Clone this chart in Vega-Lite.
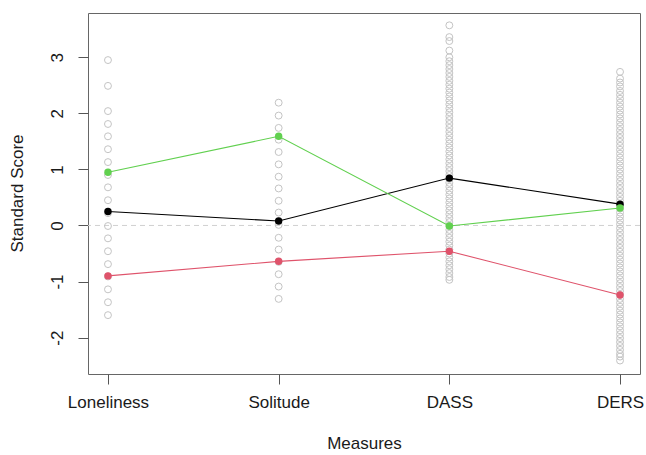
{
  "$schema": "https://vega.github.io/schema/vega-lite/v6.json",
  "autosize": {"type": "none"},
  "width": 552,
  "height": 361,
  "padding": {"left": 88, "top": 13, "right": 6, "bottom": 81},
  "background": "white",
  "config": {
    "view": {"stroke": "#666666", "strokeWidth": 1},
    "font": "Liberation Sans"
  },
  "datasets": {
    "raw": [
      {"measure": "Loneliness", "value": 2.95}, {"measure": "Loneliness", "value": 2.49}, {"measure": "Loneliness", "value": 2.04}, {"measure": "Loneliness", "value": 1.81}, {"measure": "Loneliness", "value": 1.59}, {"measure": "Loneliness", "value": 1.36}, {"measure": "Loneliness", "value": 1.13}, {"measure": "Loneliness", "value": 0.9}, {"measure": "Loneliness", "value": 0.68}, {"measure": "Loneliness", "value": 0.45}, {"measure": "Loneliness", "value": 0.22}, {"measure": "Loneliness", "value": -0.01}, {"measure": "Loneliness", "value": -0.23}, {"measure": "Loneliness", "value": -0.46}, {"measure": "Loneliness", "value": -0.69}, {"measure": "Loneliness", "value": -0.91}, {"measure": "Loneliness", "value": -1.14}, {"measure": "Loneliness", "value": -1.37}, {"measure": "Loneliness", "value": -1.6},
      {"measure": "Solitude", "value": 2.19}, {"measure": "Solitude", "value": 1.96}, {"measure": "Solitude", "value": 1.74}, {"measure": "Solitude", "value": 1.53}, {"measure": "Solitude", "value": 1.31}, {"measure": "Solitude", "value": 1.09}, {"measure": "Solitude", "value": 0.87}, {"measure": "Solitude", "value": 0.66}, {"measure": "Solitude", "value": 0.44}, {"measure": "Solitude", "value": 0.23}, {"measure": "Solitude", "value": 0.01}, {"measure": "Solitude", "value": -0.22}, {"measure": "Solitude", "value": -0.43}, {"measure": "Solitude", "value": -0.65}, {"measure": "Solitude", "value": -0.87}, {"measure": "Solitude", "value": -1.09}, {"measure": "Solitude", "value": -1.31},
      {"measure": "DASS", "value": 3.57}, {"measure": "DASS", "value": 3.36}, {"measure": "DASS", "value": 3.29}, {"measure": "DASS", "value": 3.12}, {"measure": "DASS", "value": 3.0}, {"measure": "DASS", "value": 2.93}, {"measure": "DASS", "value": 2.86}, {"measure": "DASS", "value": 2.79}, {"measure": "DASS", "value": 2.72}, {"measure": "DASS", "value": 2.65}, {"measure": "DASS", "value": 2.58}, {"measure": "DASS", "value": 2.51}, {"measure": "DASS", "value": 2.44}, {"measure": "DASS", "value": 2.37}, {"measure": "DASS", "value": 2.3}, {"measure": "DASS", "value": 2.23}, {"measure": "DASS", "value": 2.16}, {"measure": "DASS", "value": 2.09}, {"measure": "DASS", "value": 2.02}, {"measure": "DASS", "value": 1.95}, {"measure": "DASS", "value": 1.88}, {"measure": "DASS", "value": 1.81}, {"measure": "DASS", "value": 1.74}, {"measure": "DASS", "value": 1.67}, {"measure": "DASS", "value": 1.6}, {"measure": "DASS", "value": 1.53}, {"measure": "DASS", "value": 1.46}, {"measure": "DASS", "value": 1.39}, {"measure": "DASS", "value": 1.32}, {"measure": "DASS", "value": 1.25}, {"measure": "DASS", "value": 1.18}, {"measure": "DASS", "value": 1.11}, {"measure": "DASS", "value": 1.04}, {"measure": "DASS", "value": 0.97}, {"measure": "DASS", "value": 0.9}, {"measure": "DASS", "value": 0.83}, {"measure": "DASS", "value": 0.76}, {"measure": "DASS", "value": 0.69}, {"measure": "DASS", "value": 0.62}, {"measure": "DASS", "value": 0.55}, {"measure": "DASS", "value": 0.48}, {"measure": "DASS", "value": 0.41}, {"measure": "DASS", "value": 0.34}, {"measure": "DASS", "value": 0.27}, {"measure": "DASS", "value": 0.2}, {"measure": "DASS", "value": 0.13}, {"measure": "DASS", "value": 0.06}, {"measure": "DASS", "value": -0.01}, {"measure": "DASS", "value": -0.08}, {"measure": "DASS", "value": -0.15}, {"measure": "DASS", "value": -0.22}, {"measure": "DASS", "value": -0.29}, {"measure": "DASS", "value": -0.36}, {"measure": "DASS", "value": -0.43}, {"measure": "DASS", "value": -0.5}, {"measure": "DASS", "value": -0.57}, {"measure": "DASS", "value": -0.64}, {"measure": "DASS", "value": -0.71}, {"measure": "DASS", "value": -0.78}, {"measure": "DASS", "value": -0.85}, {"measure": "DASS", "value": -0.92}, {"measure": "DASS", "value": -0.97},
      {"measure": "DERS", "value": 2.74}, {"measure": "DERS", "value": 2.62}, {"measure": "DERS", "value": 2.55}, {"measure": "DERS", "value": 2.48}, {"measure": "DERS", "value": 2.4}, {"measure": "DERS", "value": 2.33}, {"measure": "DERS", "value": 2.26}, {"measure": "DERS", "value": 2.19}, {"measure": "DERS", "value": 2.12}, {"measure": "DERS", "value": 2.05}, {"measure": "DERS", "value": 1.98}, {"measure": "DERS", "value": 1.91}, {"measure": "DERS", "value": 1.84}, {"measure": "DERS", "value": 1.77}, {"measure": "DERS", "value": 1.7}, {"measure": "DERS", "value": 1.63}, {"measure": "DERS", "value": 1.56}, {"measure": "DERS", "value": 1.49}, {"measure": "DERS", "value": 1.42}, {"measure": "DERS", "value": 1.35}, {"measure": "DERS", "value": 1.28}, {"measure": "DERS", "value": 1.21}, {"measure": "DERS", "value": 1.14}, {"measure": "DERS", "value": 1.07}, {"measure": "DERS", "value": 1.0}, {"measure": "DERS", "value": 0.93}, {"measure": "DERS", "value": 0.86}, {"measure": "DERS", "value": 0.79}, {"measure": "DERS", "value": 0.72}, {"measure": "DERS", "value": 0.65}, {"measure": "DERS", "value": 0.58}, {"measure": "DERS", "value": 0.51}, {"measure": "DERS", "value": 0.44}, {"measure": "DERS", "value": 0.37}, {"measure": "DERS", "value": 0.3}, {"measure": "DERS", "value": 0.23}, {"measure": "DERS", "value": 0.16}, {"measure": "DERS", "value": 0.09}, {"measure": "DERS", "value": 0.02}, {"measure": "DERS", "value": -0.05}, {"measure": "DERS", "value": -0.12}, {"measure": "DERS", "value": -0.19}, {"measure": "DERS", "value": -0.26}, {"measure": "DERS", "value": -0.33}, {"measure": "DERS", "value": -0.4}, {"measure": "DERS", "value": -0.47}, {"measure": "DERS", "value": -0.54}, {"measure": "DERS", "value": -0.61}, {"measure": "DERS", "value": -0.68}, {"measure": "DERS", "value": -0.75}, {"measure": "DERS", "value": -0.82}, {"measure": "DERS", "value": -0.89}, {"measure": "DERS", "value": -0.96}, {"measure": "DERS", "value": -1.03}, {"measure": "DERS", "value": -1.1}, {"measure": "DERS", "value": -1.17}, {"measure": "DERS", "value": -1.24}, {"measure": "DERS", "value": -1.31}, {"measure": "DERS", "value": -1.38}, {"measure": "DERS", "value": -1.45}, {"measure": "DERS", "value": -1.52}, {"measure": "DERS", "value": -1.59}, {"measure": "DERS", "value": -1.66}, {"measure": "DERS", "value": -1.73}, {"measure": "DERS", "value": -1.8}, {"measure": "DERS", "value": -1.87}, {"measure": "DERS", "value": -1.94}, {"measure": "DERS", "value": -2.01}, {"measure": "DERS", "value": -2.08}, {"measure": "DERS", "value": -2.15}, {"measure": "DERS", "value": -2.22}, {"measure": "DERS", "value": -2.29}, {"measure": "DERS", "value": -2.34}, {"measure": "DERS", "value": -2.41}
    ],
    "means": [
      {"measure": "Loneliness", "group": "Group 1", "value": 0.25},
      {"measure": "Solitude", "group": "Group 1", "value": 0.08},
      {"measure": "DASS", "group": "Group 1", "value": 0.845},
      {"measure": "DERS", "group": "Group 1", "value": 0.38},
      {"measure": "Loneliness", "group": "Group 2", "value": -0.9},
      {"measure": "Solitude", "group": "Group 2", "value": -0.64},
      {"measure": "DASS", "group": "Group 2", "value": -0.46},
      {"measure": "DERS", "group": "Group 2", "value": -1.24},
      {"measure": "Loneliness", "group": "Group 3", "value": 0.95},
      {"measure": "Solitude", "group": "Group 3", "value": 1.59},
      {"measure": "DASS", "group": "Group 3", "value": -0.01},
      {"measure": "DERS", "group": "Group 3", "value": 0.31}
    ],
    "zero": [{"value": 0}]
  },
  "encoding": {
    "x": {
      "field": "measure",
      "type": "ordinal",
      "sort": ["Loneliness", "Solitude", "DASS", "DERS"],
      "scale": {"type": "point", "padding": 0.117, "domain": ["Loneliness", "Solitude", "DASS", "DERS"]},
      "axis": {
        "title": "Measures",
        "titleFont": "Liberation Sans",
        "titleFontSize": 17,
        "titleFontWeight": "normal",
        "titleColor": "#1a1a1a",
        "titleY": 69,
        "titleBaseline": "middle",
        "labelFont": "Liberation Sans",
        "labelFontSize": 17,
        "labelColor": "#1a1a1a",
        "labelAngle": 0,
        "labelBaseline": "top",
        "labelPadding": 10,
        "tickSize": 10,
        "tickColor": "#555555",
        "domain": false,
        "grid": false
      }
    },
    "y": {
      "field": "value",
      "type": "quantitative",
      "scale": {"domain": [-2.65, 3.79], "nice": false, "zero": false},
      "axis": {
        "title": "Standard Score",
        "values": [-2, -1, 0, 1, 2, 3],
        "labelExpr": "'' + datum.value",
        "titleFont": "Liberation Sans",
        "titleFontSize": 17,
        "titleFontWeight": "normal",
        "titleColor": "#1a1a1a",
        "titleAngle": 270,
        "titleX": -71,
        "titleY": 180,
        "titleAlign": "center",
        "titleBaseline": "middle",
        "labelFont": "Liberation Sans",
        "labelFontSize": 17,
        "labelColor": "#1a1a1a",
        "labelAngle": 270,
        "labelAlign": "center",
        "labelBaseline": "bottom",
        "labelPadding": 12,
        "tickSize": 10,
        "tickColor": "#555555",
        "domain": false,
        "grid": false
      }
    }
  },
  "layer": [
    {
      "data": {"name": "zero"},
      "mark": {"type": "rule", "color": "#d0d0d0", "strokeDash": [5, 4], "strokeWidth": 1},
      "encoding": {"x": null, "y": {"field": "value", "type": "quantitative"}}
    },
    {
      "data": {"name": "raw"},
      "mark": {"type": "point", "shape": "circle", "filled": false, "stroke": "#c4c4c4", "strokeWidth": 1, "size": 48, "opacity": 1}
    },
    {
      "data": {"name": "means"},
      "mark": {"type": "line", "strokeWidth": 1.1},
      "encoding": {
        "color": {"field": "group", "type": "nominal", "scale": {"domain": ["Group 1", "Group 2", "Group 3"], "range": ["#000000", "#DF536B", "#61D04F"]}, "legend": null},
        "detail": {"field": "group"}
      }
    },
    {
      "data": {"name": "means"},
      "mark": {"type": "point", "shape": "circle", "filled": true, "size": 55, "opacity": 1},
      "encoding": {
        "color": {"field": "group", "type": "nominal", "scale": {"domain": ["Group 1", "Group 2", "Group 3"], "range": ["#000000", "#DF536B", "#61D04F"]}, "legend": null}
      }
    }
  ]
}
